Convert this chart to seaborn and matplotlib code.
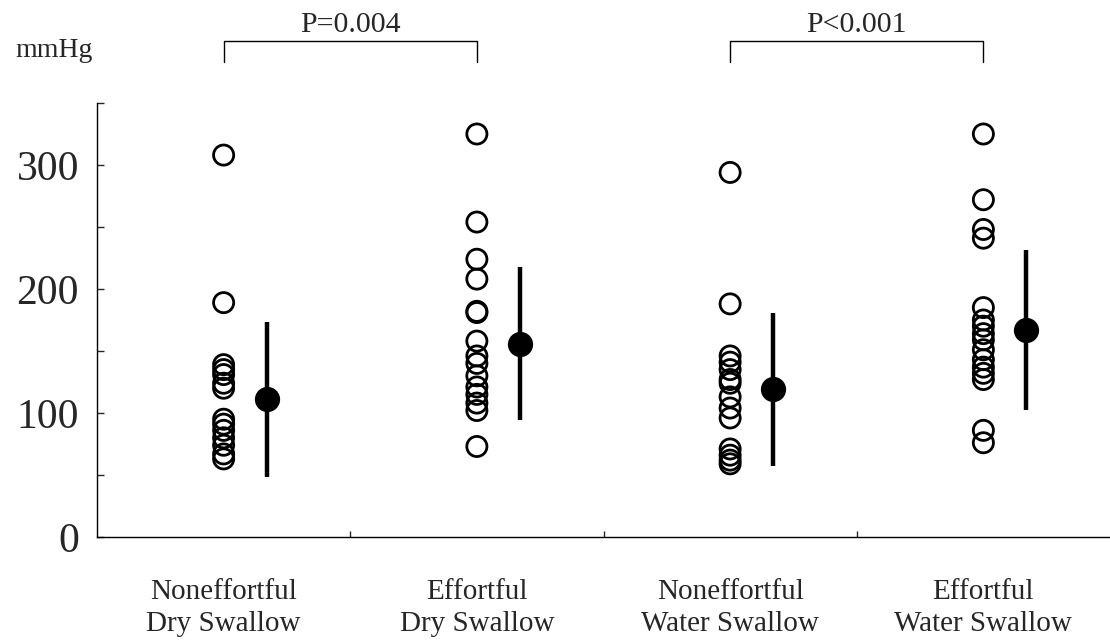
import matplotlib
matplotlib.use("Agg")
import matplotlib.pyplot as plt
import seaborn as sns
import pandas as pd
import numpy as np

categories = ["Noneffortful\nDry Swallow", "Effortful\nDry Swallow",
              "Noneffortful\nWater Swallow", "Effortful\nWater Swallow"]
g1 = [308, 189, 139, 135, 131, 124, 120, 95, 91, 86, 80, 74, 67, 63]
g2 = [325, 254, 224, 208, 182, 181, 158, 146, 140, 130, 121, 115, 108, 102, 73]
g3 = [294, 188, 146, 141, 135, 127, 124, 113, 104, 96, 71, 66, 62, 59]
g4 = [325, 272, 248, 241, 185, 175, 170, 164, 159, 151, 143, 137, 132, 127, 86, 76]
means = [111, 156, 119, 167]
sds = [62.5, 62, 62, 64.5]
p_labels = ["P=0.004", "P<0.001"]
y_ticks = [0, 100, 200, 300]

sns.set_style("ticks")
plt.rcParams["font.family"] = ["Liberation Serif", "DejaVu Serif"]

fig = plt.figure(figsize=(11.10, 6.42), dpi=100)
ax = fig.add_axes([97 / 1110, 1 - 537 / 642, 1 - 97 / 1110, (537 - 103) / 642])

groups = [g1, g2, g3, g4]
df = pd.DataFrame({
    "x": np.concatenate([[i] * len(g) for i, g in enumerate(groups)]).astype(float),
    "v": np.concatenate(groups),
})
sns.scatterplot(data=df, x="x", y="v", ax=ax, s=210, marker="o",
                edgecolor="black", linewidth=2.0, legend=False)
for c in ax.collections:
    c.set_facecolor("none")
    c.set_edgecolor("black")

off = 0.17
mx = np.arange(4) + off
ax.errorbar(mx, means, yerr=sds, fmt="none", ecolor="black", elinewidth=3.2, capsize=0)
mdf = pd.DataFrame({"x": mx, "v": means})
sns.scatterplot(data=mdf, x="x", y="v", ax=ax, s=330, color="black",
                edgecolor="black", linewidth=0, legend=False, zorder=5)

ax.set_xlim(-0.5, 3.5)
ax.set_ylim(0, 350)
ax.set_xlabel("")
ax.set_ylabel("")
sns.despine(ax=ax)
for s in ["left", "bottom"]:
    ax.spines[s].set_linewidth(1.0)
    ax.spines[s].set_color("black")

ax.set_xticks(range(4))
ax.set_xticklabels(categories, fontsize=21, linespacing=1.3)
ax.set_xticks([0.5, 1.5, 2.5], minor=True)
ax.tick_params(axis="x", which="major", length=0, pad=30)
ax.tick_params(axis="x", which="minor", length=4, direction="in", width=1)

ax.set_yticks(y_ticks)
ax.set_yticklabels([str(t) for t in y_ticks], fontsize=30)
ax.set_yticks([50, 150, 250, 350], minor=True)
ax.tick_params(axis="y", which="both", direction="in", length=5, width=1, pad=13)

for (a, b), lab in zip([(0, 1), (2, 3)], p_labels):
    ax.plot([a, a, b, b], [383, 400, 400, 383], color="black", lw=1.0, clip_on=False)
    ax.text((a + b) / 2, 407, lab, ha="center", va="baseline", fontsize=21.5, clip_on=False)

fig.text(15 / 1110, 1 - 57 / 642, "mmHg", ha="left", va="baseline", fontsize=20)

fig.savefig("out.png", dpi=100)
